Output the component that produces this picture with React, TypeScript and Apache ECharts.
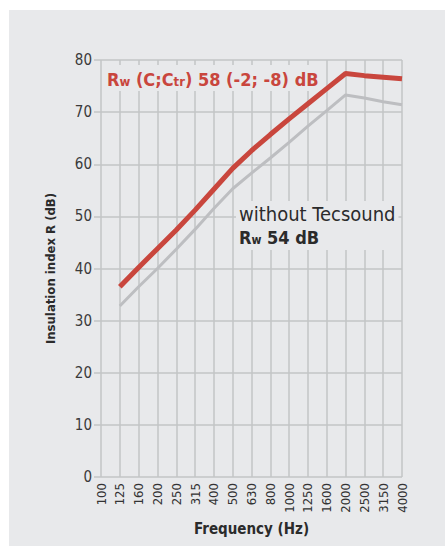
import React, { useEffect, useRef } from "react";
import * as echarts from "echarts";

const frequencies = ["100", "125", "160", "200", "250", "315", "400", "500", "630", "800", "1000", "1250", "1600", "2000", "2500", "3150", "4000"];
const withTecsound = [null, 36.5, 40.2, 43.8, 47.4, 51.2, 55.2, 59.2, 62.6, 65.7, 68.7, 71.6, 74.5, 77.4, 77.0, 76.7, 76.4];
const withoutTecsound = [null, 32.8, 36.5, 40.0, 43.7, 47.5, 51.5, 55.3, 58.3, 61.2, 64.2, 67.3, 70.3, 73.3, 72.7, 72.0, 71.4];
const yTicks = { min: 0, max: 80, interval: 10 };

const BG = "#e8e9eb";
const GRID = "#c3c4c6";
const COND = '"DejaVu Sans Condensed", Roboto, sans-serif';

export default function App() {
  const ref = useRef<HTMLDivElement>(null);
  useEffect(() => {
    if (!ref.current) return;
    const chart = echarts.init(ref.current, undefined, { renderer: "svg" });
    chart.setOption({
      animation: false,
      backgroundColor: "#ffffff",
      graphic: [
        { type: "rect", z: -10, silent: true, shape: { x: 9, y: 10, width: 440, height: 536 }, style: { fill: BG } },
        {
          type: "text", z: 1, x: 104, y: 65,
          style: {
            text: "{a|R}{s|w}{a| (C;C}{s|tr}{a|) 58 (-2; -8) dB}",
            backgroundColor: BG,
            padding: [2, 4, 3, 3],
            rich: {
              a: { fontFamily: COND, fontWeight: "bold", fontSize: 18, fill: "#c9463d", verticalAlign: "bottom", lineHeight: 21 },
              s: { fontFamily: COND, fontWeight: "bold", fontSize: 13, fill: "#c9463d", verticalAlign: "bottom", lineHeight: 17 },
            },
          },
        },
        {
          type: "text", z: 1, x: 236, y: 201,
          style: {
            text: "{n|without Tecsound}\n{b|R}{s|w}{b| 54 dB}",
            backgroundColor: BG,
            padding: [1, 3, 4, 3],
            rich: {
              n: { fontFamily: COND, fontSize: 20, fill: "#2b2b2b", lineHeight: 23 },
              b: { fontFamily: COND, fontWeight: "bold", fontSize: 18, fill: "#2b2b2b", verticalAlign: "bottom", lineHeight: 21 },
              s: { fontFamily: COND, fontWeight: "bold", fontSize: 12, fill: "#2b2b2b", verticalAlign: "bottom", lineHeight: 16 },
            },
          },
        },
      ],
      grid: { left: 101, right: 43, top: 60, bottom: 71, containLabel: false },
      xAxis: {
        type: "category",
        data: frequencies,
        boundaryGap: false,
        axisLine: { show: false },
        axisTick: { show: false },
        axisLabel: { interval: 0, rotate: 90, fontFamily: COND, fontSize: 13, color: "#333", margin: 6 },
        splitLine: { show: true, interval: 0, lineStyle: { color: GRID, width: 1.5 } },
        name: "Frequency (Hz)",
        nameLocation: "middle",
        nameGap: 44,
        nameTextStyle: { fontFamily: COND, fontWeight: "bold", fontSize: 15, color: "#2b2b2b" },
      },
      yAxis: {
        type: "value",
        min: yTicks.min,
        max: yTicks.max,
        interval: yTicks.interval,
        axisLine: { show: false },
        axisTick: { show: true, length: 7, lineStyle: { color: GRID, width: 1.5 } },
        axisLabel: { fontFamily: COND, fontSize: 15, color: "#3a3a3a", margin: 9 },
        splitLine: { show: true, lineStyle: { color: GRID, width: 1.5 } },
        name: "Insulation index R (dB)",
        nameLocation: "middle",
        nameGap: 44,
        nameTextStyle: { fontFamily: COND, fontWeight: "bold", fontSize: 13, color: "#2b2b2b" },
      },
      series: [
        {
          type: "line", name: "without Tecsound", data: withoutTecsound, showSymbol: false, symbol: "none",
          lineStyle: { color: "#bdbec1", width: 3 }, z: 5,
        },
        {
          type: "line", name: "with Tecsound", data: withTecsound, showSymbol: false, symbol: "none",
          lineStyle: { color: "#c9463d", width: 5 }, z: 6,
        },
      ],
    });
    return () => chart.dispose();
  }, []);
  return <div ref={ref} style={{ position: "fixed", left: 0, top: 0, width: 445, height: 548 }} />;
}
